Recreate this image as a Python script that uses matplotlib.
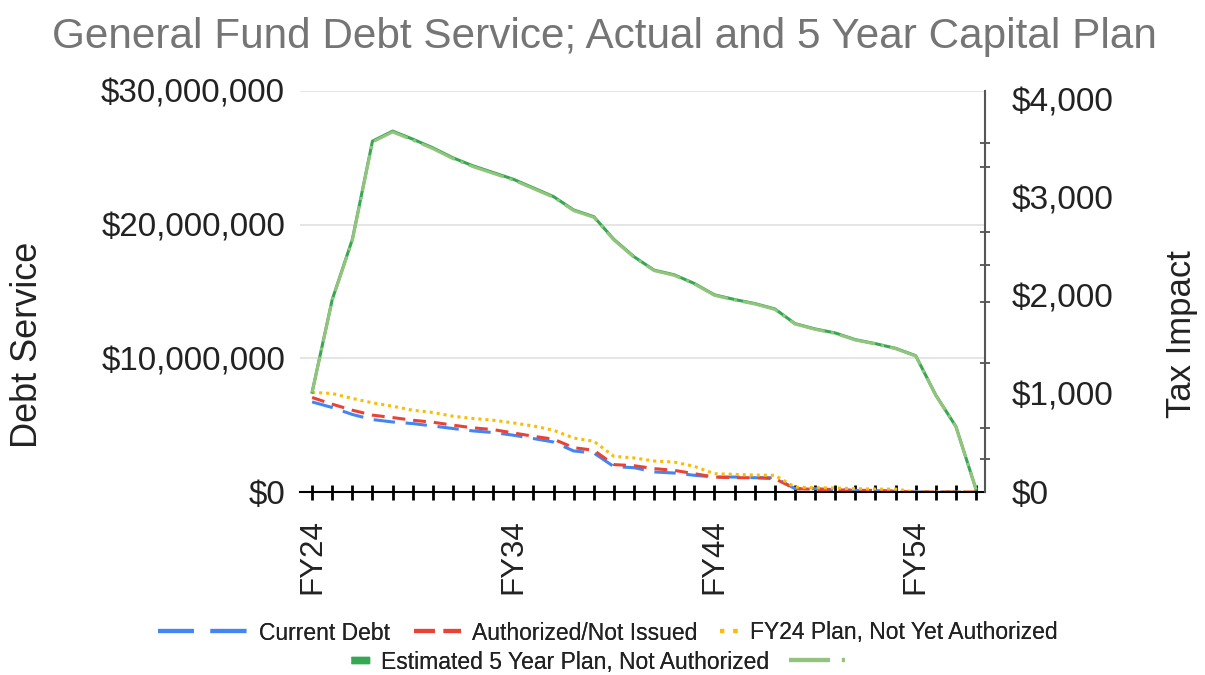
import matplotlib
matplotlib.use("Agg")
import matplotlib.pyplot as plt
from matplotlib.lines import Line2D
from matplotlib.ticker import FixedLocator, FuncFormatter
import numpy as np

plt.rcParams["font.family"] = ["Liberation Sans", "DejaVu Sans"]

# Fiscal years FY24 .. FY57
years = list(range(24, 58))

# Debt service in $ millions
current_debt = [6.74, 6.32, 5.8, 5.42, 5.24, 5.12, 4.94, 4.75, 4.57, 4.45,
                4.25, 4.0, 3.74, 3.07, 2.92, 1.9, 1.82, 1.5, 1.42, 1.25,
                1.12, 1.12, 1.07, 1.07, 0.25, 0.25, 0.17, 0.12, 0.1, 0.05,
                0, 0, 0, 0]
authorized_not_issued = [7.07, 6.57, 6.12, 5.75, 5.57, 5.37, 5.22, 5.0, 4.8, 4.67,
                         4.42, 4.17, 3.95, 3.32, 3.12, 2.05, 1.97, 1.75, 1.62, 1.37,
                         1.12, 1.07, 1.07, 1.0, 0.25, 0.2, 0.17, 0.12, 0.12, 0.05,
                         0, 0, 0, 0]
fy24_plan = [7.45, 7.37, 7.0, 6.67, 6.42, 6.12, 5.95, 5.67, 5.5, 5.37,
             5.17, 4.94, 4.62, 4.04, 3.8, 2.67, 2.55, 2.32, 2.24, 1.92,
             1.37, 1.32, 1.27, 1.25, 0.37, 0.32, 0.3, 0.25, 0.22, 0.22,
             0, 0, 0, 0]
five_year_plan = [7.47, 14.4, 18.9, 26.25, 27.0, 26.4, 25.75, 25.0, 24.4, 23.9,
                  23.4, 22.75, 22.1, 21.1, 20.6, 18.9, 17.6, 16.6, 16.25, 15.6,
                  14.75, 14.4, 14.1, 13.7, 12.6, 12.2, 11.9, 11.4, 11.1, 10.75,
                  10.2, 7.25, 4.9, 0.2]

# Tax impact in $ (right axis)
tax_impact = [1016, 1958, 2570, 3570, 3672, 3590, 3502, 3400, 3318, 3250,
              3182, 3094, 3006, 2870, 2802, 2570, 2394, 2258, 2210, 2122,
              2006, 1958, 1918, 1863, 1714, 1659, 1618, 1550, 1510, 1462,
              1387, 986, 666, 27]

labelled_years = [24, 34, 44, 54]
right_minor_ticks = [334, 650, 1319, 1942, 2316, 2656, 3313, 3564]

BLUE = "#4285f4"
RED = "#ea4335"
YELLOW = "#fbbc04"
DKGREEN = "#34a853"
LTGREEN = "#93c47d"
TEXT = "#222222"

W, H = 1205, 675
fig = plt.figure(figsize=(W / 100, H / 100), dpi=100)
ax = fig.add_axes([0.249, 0.2711, 0.5685, 0.5941])
ax2 = ax.twinx()

x = np.array(years)
lw = 2.2
ax.plot(x, np.array(current_debt) * 1e6, color=BLUE, lw=lw, dashes=(7, 3.5), zorder=3)
ax.plot(x, np.array(authorized_not_issued) * 1e6, color=RED, lw=lw, dashes=(4.2, 2.6), zorder=3)
ax.plot(x, np.array(fy24_plan) * 1e6, color=YELLOW, lw=lw, dashes=(1, 1.3), zorder=3)
ax.plot(x, np.array(five_year_plan) * 1e6, color=DKGREEN, lw=lw, zorder=3)
ax2.plot(x, tax_impact, color=LTGREEN, lw=lw, dashes=(12, 2, 1, 2))

# left axis
ax.set_xlim(23.4, 57.45)
ax.set_ylim(0, 30e6)
ax.yaxis.set_major_locator(FixedLocator([0, 10e6, 20e6, 30e6]))
ax.yaxis.set_major_formatter(FuncFormatter(lambda v, p: "${:,.0f}".format(v)))
ax.tick_params(axis="y", length=0, pad=10.8, labelsize=23.9, labelcolor=TEXT)
ax.yaxis.grid(True, color="#e0e0e0", lw=1.2)
ax.set_axisbelow(True)
for s in ["left", "top", "right"]:
    ax.spines[s].set_visible(False)
ax.spines["bottom"].set_color("black")
ax.spines["bottom"].set_linewidth(1.5)
ax.spines["bottom"].set_zorder(4)

# x axis
ax.xaxis.set_major_locator(FixedLocator(labelled_years))
ax.xaxis.set_minor_locator(FixedLocator(years))
ax.set_xticklabels([f"FY{y}" for y in labelled_years], rotation=90, va="top", ha="center")
ax.tick_params(axis="x", which="both", direction="inout", length=10.8, width=2,
               color="black")
ax.tick_params(axis="x", which="major", pad=14, labelsize=22.5, labelcolor=TEXT)

# right axis
ax2.set_ylim(0, 4090)
ax2.yaxis.set_major_locator(FixedLocator([0, 1000, 2000, 3000, 4000]))
ax2.yaxis.set_minor_locator(FixedLocator(right_minor_ticks))
ax2.yaxis.set_major_formatter(FuncFormatter(lambda v, p: "${:,.0f}".format(v)))
ax2.tick_params(axis="y", which="major", length=0, pad=19.4, labelsize=24, labelcolor=TEXT)
ax2.tick_params(axis="y", which="minor", direction="inout", length=7, width=1.2, color="#444444")
for s in ["left", "top", "bottom"]:
    ax2.spines[s].set_visible(False)
ax2.spines["right"].set_color("#555555")
ax2.spines["right"].set_linewidth(1.5)

# titles and axis labels
fig.text(0.502, 1 - 48 / H, "General Fund Debt Service; Actual and 5 Year Capital Plan",
         ha="center", va="baseline", fontsize=30.4, color="#757575")
fig.text(27.5 / W, 1 - 345 / H, "Debt Service", rotation=90, ha="center", va="center",
         fontsize=26, color=TEXT)
fig.text(1181 / W, 1 - 334 / H, "Tax Impact", rotation=90, ha="center", va="center",
         fontsize=25, color=TEXT)

# legend: one small legend per entry so each key keeps its own length
rect = [(-1.5, -0.5), (1.5, -0.5), (1.5, 0.5), (-1.5, 0.5)]
legend_items = [
    # handle, label, left px, row y px, handle length (font units)
    (Line2D([], [], color=BLUE, lw=3, dashes=(8.6, 4)), "Current Debt", 158, 633, 3.9),
    (Line2D([], [], color=RED, lw=3, dashes=(5, 2.1)), "Authorized/Not Issued", 414, 633, 2.05),
    (Line2D([], [], color=YELLOW, lw=3, dashes=(1, 2.2)), "FY24 Plan, Not Yet Authorized", 720, 633, 0.8),
    (Line2D([], [], color=DKGREEN, lw=0, marker=rect, markersize=13),
     "Estimated 5 Year Plan, Not Authorized", 351, 662, 0.8),
    (Line2D([], [], color=LTGREEN, lw=3, dashes=(9.8, 2.9, 0.7, 2.9)), "", 789, 662, 2.45),
]
for handle, label, left, ypx, hlen in legend_items:
    leg = fig.legend([handle], [label], loc="center left",
                     bbox_to_anchor=(left / W, 1 - ypx / H), frameon=False,
                     fontsize=16.5, labelcolor=TEXT, handlelength=hlen,
                     handletextpad=0.5, borderpad=0, borderaxespad=0, numpoints=1)
    fig.add_artist(leg)

fig.savefig("out.png", dpi=100)
